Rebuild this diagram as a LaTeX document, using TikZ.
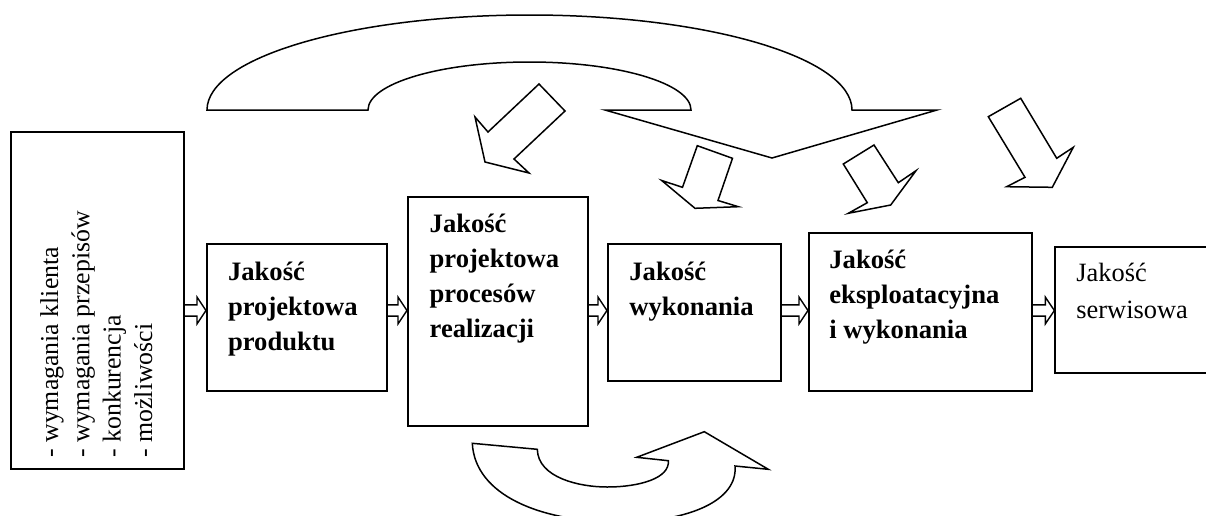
\documentclass[tikz,border=0pt]{standalone}
\usepackage{fontspec}
\setmainfont{Liberation Serif}
\usetikzlibrary{calc,fit}
\begin{document}
\begin{tikzpicture}[x=0.5pt,y=-0.5pt,
  box/.style={draw, line width=1pt, inner sep=0pt},
  thinbox/.style={draw, line width=0.65pt, inner sep=0pt},
  headtxt/.style={font=\fontsize{13.3pt}{17.65pt}\selectfont\bfseries, align=left, inner sep=0pt},
  plaintxt/.style={font=\fontsize{13.2pt}{18.3pt}\selectfont, align=left, inner sep=0pt},
  listtxt/.style={font=\fontsize{12.9pt}{15.65pt}\selectfont, align=left, inner sep=0pt},
  callout/.style={draw, line width=0.75pt, line join=miter},
  flowarrow/.style={draw, line width=0.7pt, to path={
    let \p1=(\tikztostart), \p2=(\tikztotarget) in
    (\x1,\y1+2.8pt) -- (\x2-4.5pt,\y1+2.8pt) -- (\x2-4.5pt,\y1+6.7pt) -- (\x2,\y1)
    -- (\x2-4.5pt,\y1-6.7pt) -- (\x2-4.5pt,\y1-2.8pt) -- (\x1,\y1-2.8pt)}}]
\useasboundingbox (0,0) rectangle (1206,515);
\clip (0,0) rectangle (1206,515);

% boxes of the quality chain
\node[box, fit={(11,132) (184,469)}] (b1) {};
\node[box, fit={(207,244) (387,391)}] (b2) {};
\node[box, fit={(408,197) (588,426)}] (b3) {};
\node[box, fit={(608,244) (781,381)}] (b4) {};
\node[box, fit={(809,233) (1032,391)}] (b5) {};
\node[thinbox, fit={(1055,247) (1240,373)}] (b6) {};

% box texts (anchored on the baseline of the last line)
\node[listtxt, rotate=90, anchor=base west] (t1) at (152,458)
  {- wymagania klienta\\- wymagania przepisów\\- konkurencja\\- możliwości};
\node[headtxt, anchor=base west] (t2) at (227.7,350.6) {Jakość\\projektowa\\produktu};
\node[headtxt, anchor=base west] (t3) at (429.3,337.9) {Jakość\\projektowa\\procesów\\realizacji};
\node[headtxt, anchor=base west] (t4) at (629,315.3) {Jakość\\wykonania};
\node[headtxt, anchor=base west] (t5) at (829,338.6) {Jakość\\eksploatacyjna\\i wykonania};
\node[plaintxt, anchor=base west] (t6) at (1076,318.3) {Jakość\\serwisowa};

% flow arrows between the boxes
\coordinate (row) at (0,310.5);
\draw[flowarrow] (b1.east |- row) to (b2.west |- row);
\draw[flowarrow] (b2.east |- row) to (b3.west |- row);
\draw[flowarrow] (b3.east |- row) to (b4.west |- row);
\draw[flowarrow] (b4.east |- row) to (b5.west |- row);
\draw[flowarrow] (b5.east |- row) to (b6.west |- row);

% large curved arrow over the chain
\draw[callout] (207,110) arc[start angle=180, end angle=360, x radius=322.5, y radius=95]
  -- (937,110) -- (772,158) -- (605,110) -- (691,110)
  arc[start angle=0, end angle=-180, x radius=161.5, y radius=48] -- cycle;

% small block arrows pointing at the boxes
\draw[callout] (539,84) -- (565,111) -- (514,159) -- (529,173) -- (485,162) -- (475,117) -- (488,132) -- cycle;
\draw[callout] (697.3,145.7) -- (732.5,158.3) -- (718,200.5) -- (738.3,206.7) -- (695,208.3) -- (661.7,180.5) -- (682.5,187.3) -- cycle;
\draw[callout] (843.3,164) -- (874,145) -- (898.3,182.7) -- (916,170.7) -- (890.7,205) -- (848.3,213.3) -- (867.3,202.7) -- cycle;
\draw[callout] (988.3,116.7) -- (1020.7,98.3) -- (1056.7,158.3) -- (1073.3,147.3) -- (1052.3,187.3) -- (1006.7,186.7) -- (1025,177.3) -- cycle;

% curved arrow below
\draw[callout] (472.3,443.3) -- (537.3,449.3)
  .. controls (538,478) and (580,487) .. (607,487)
  .. controls (640,487) and (670,478) .. (668.3,460.7)
  -- (636.7,457.3) -- (704.3,431.7) -- (768.3,469.3) -- (735,466)
  .. controls (738,500) and (690,522) .. (620,522)
  .. controls (540,522) and (475,495) .. cycle;
\end{tikzpicture}
\end{document}
